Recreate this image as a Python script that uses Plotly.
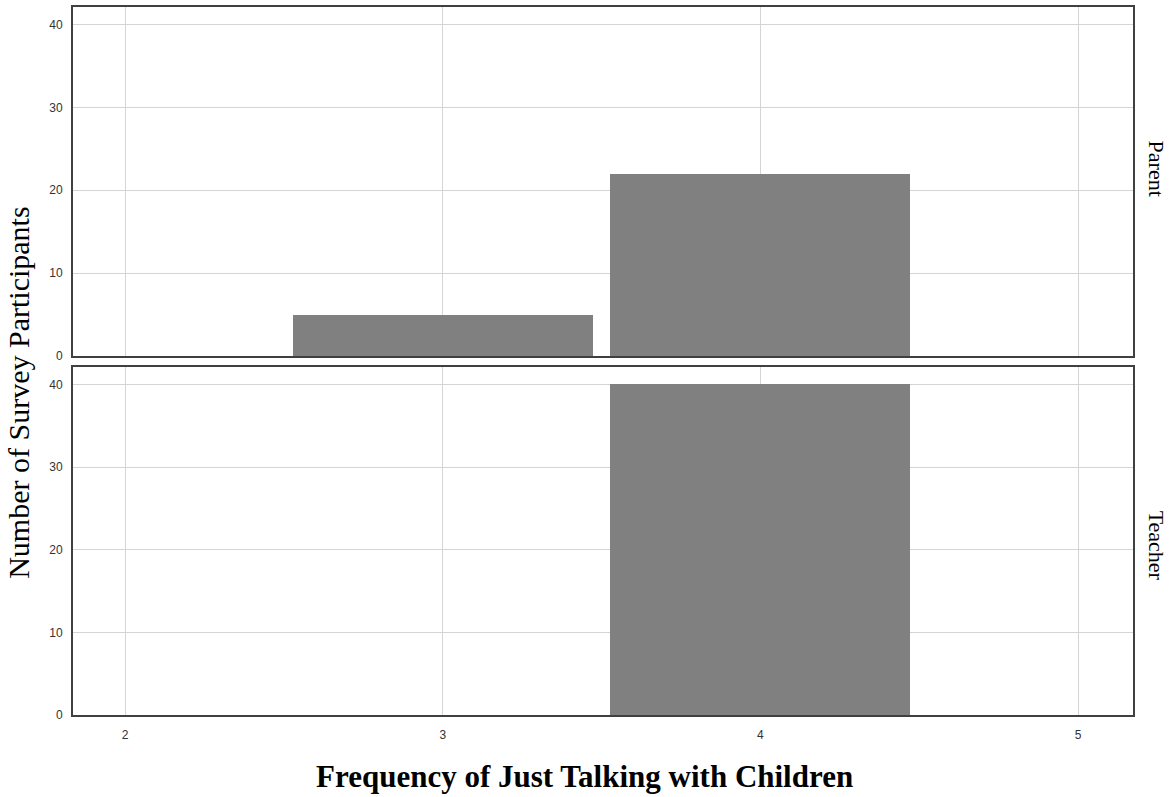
import plotly.graph_objects as go

# Data
categories = [2, 3, 4, 5]
parent_x = [3, 4]
parent_counts = [5, 22]
teacher_x = [4]
teacher_counts = [40]
y_ticks = [0, 10, 20, 30, 40]
panel_labels = ["Parent", "Teacher"]

bar_color = "#808080"
bar_width = 0.945

fig = go.Figure()
fig.add_trace(go.Bar(x=parent_x, y=parent_counts, width=bar_width,
                     marker=dict(color=bar_color, line=dict(width=0)),
                     xaxis="x", yaxis="y", showlegend=False))
fig.add_trace(go.Bar(x=teacher_x, y=teacher_counts, width=bar_width,
                     marker=dict(color=bar_color, line=dict(width=0)),
                     xaxis="x2", yaxis="y2", showlegend=False))

tickfont = dict(family="Liberation Sans, Arial, sans-serif", size=12, color="#333333")
axis_common = dict(showline=True, linecolor="#404040", linewidth=2, mirror=True,
                   showgrid=True, gridcolor="#d4d4d4", gridwidth=1, zeroline=False,
                   ticks="", tickfont=tickfont)

xr = [1.836, 5.173]
yr = [0, 42.1]

fig.update_layout(
    width=1175, height=797,
    margin=dict(l=73, r=42, t=5, b=82),
    plot_bgcolor="white", paper_bgcolor="white",
    bargap=0,
    xaxis=dict(domain=[0, 1], range=xr, anchor="y", tickvals=categories,
               showticklabels=False, **axis_common),
    yaxis=dict(domain=[0.507, 1], range=yr, anchor="x", tickvals=y_ticks,
               ticklabelstandoff=6, **axis_common),
    xaxis2=dict(domain=[0, 1], range=xr, anchor="y2", tickvals=categories,
                ticklabelstandoff=8, **axis_common),
    yaxis2=dict(domain=[0, 0.4915], range=yr, anchor="x2", tickvals=y_ticks,
                ticklabelstandoff=6, **axis_common),
)

serif = "Liberation Serif, Times New Roman, serif"
fig.add_annotation(text="Number of Survey Participants", xref="paper", yref="paper",
                   x=-0.051, y=0.455, xanchor="center", yanchor="middle", textangle=-90,
                   showarrow=False, font=dict(family=serif, size=30, color="#000000"))
fig.add_annotation(text="<b>Frequency of Just Talking with Children</b>", xref="paper", yref="paper",
                   x=0.483, y=-0.0873, xanchor="center", yanchor="middle",
                   showarrow=False, font=dict(family=serif, size=31, color="#000000"))
fig.add_annotation(text=panel_labels[0], xref="paper", yref="paper",
                   x=1.0225, y=0.772, xanchor="center", yanchor="middle", textangle=90,
                   showarrow=False, font=dict(family=serif, size=22, color="#000000"))
fig.add_annotation(text=panel_labels[1], xref="paper", yref="paper",
                   x=1.0225, y=0.2394, xanchor="center", yanchor="middle", textangle=90,
                   showarrow=False, font=dict(family=serif, size=22, color="#000000"))

fig.write_html("out.html", config={"displayModeBar": False},
               post_script="document.body.style.margin='0';document.body.style.overflow='hidden';")
